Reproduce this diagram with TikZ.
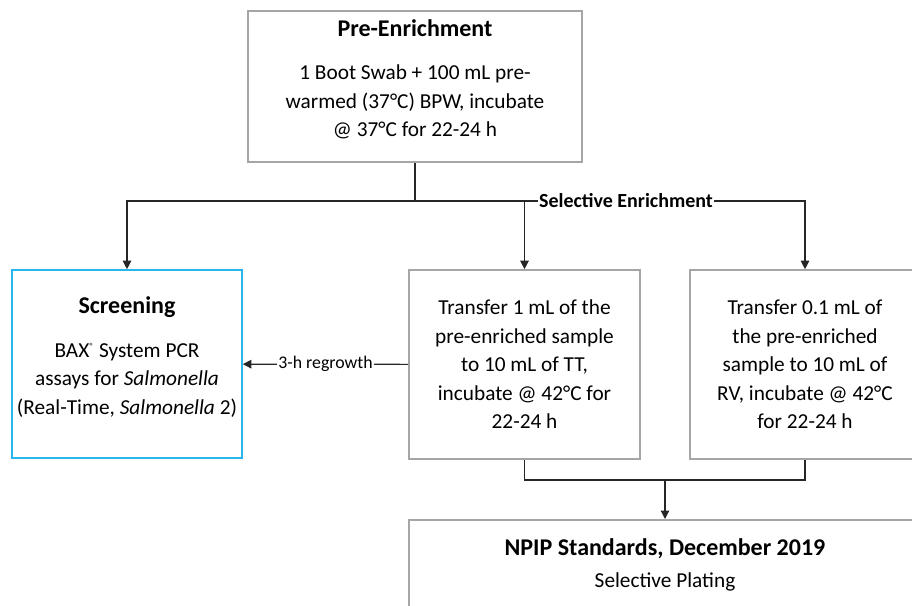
\documentclass[tikz,border=0pt]{standalone}
\usepackage{fontspec}
\setmainfont{Carlito}
\usetikzlibrary{positioning,arrows.meta}
\definecolor{boxgray}{HTML}{A6A6A6}
\definecolor{scrblue}{HTML}{29B6EC}

\begin{document}
\begin{tikzpicture}[x=1pt, y=-1pt,
    box/.style={draw=boxgray, line width=1.6pt, align=center, inner sep=0pt,
        font=\fontsize{21.3}{28.5}\selectfont},
    lbl/.style={fill=white, inner xsep=1.5pt, inner ysep=1pt,
        font=\fontsize{17.8}{20}\selectfont},
    line/.style={line width=1.2pt, draw=black!85},
    arr/.style={line, -{Triangle[length=8.5pt,width=8.5pt]}}]
    \clip (0,0) rectangle (912,605);

    \node[box, minimum width=334pt, minimum height=151pt] (pre) at (415,86.5)
        {\textbf{\fontsize{24}{26}\selectfont Pre-Enrichment}\\[15pt]
         1 Boot Swab + 100 mL pre-\\ warmed (37°C) BPW, incubate\\ @ 37°C for 22-24 h\\[-12pt]\mbox{}};
    \node[box, draw=scrblue, minimum width=230pt, minimum height=188pt] (scr) at (127,364)
        {\textbf{\fontsize{24}{26}\selectfont Screening}\\[15pt]
         BAX\textsuperscript{\fontsize{9}{9}\selectfont ®} System PCR\\ assays for \textit{Salmonella}\\
         (Real-Time, \textit{Salmonella} 2)\\[-12pt]\mbox{}};
    \node[box, minimum width=231pt, minimum height=189pt] (tt) at (524.5,364.5)
        {Transfer 1 mL of the\\ pre-enriched sample\\ to 10 mL of TT,\\ incubate @ 42°C for\\ 22-24 h};
    \node[box, minimum width=230pt, minimum height=189pt] (rv) at (805,364.5)
        {Transfer 0.1 mL of\\ the pre-enriched\\ sample to 10 mL of\\ RV, incubate @ 42°C\\ for 22-24 h};
    \node[box, anchor=north, minimum width=512pt, minimum height=90pt] (npip) at (665,519)
        {\textbf{\fontsize{24}{26}\selectfont NPIP Standards, December 2019}\\[4pt]
         Selective Plating};

    \coordinate (split) at (415,201);
    \coordinate (merge) at (665,480);

    % pre-enrichment splits three ways
    \draw[line] (pre) -- (split);
    \draw[arr] (split) -| (scr);
    \draw[arr] (split) -| (tt);
    \draw[arr] (split) -| (rv);
    \node[lbl, font=\fontsize{20}{22}\selectfont\bfseries] (sel) at (626,201) {Selective Enrichment};

    \draw[arr] (tt) -- node[lbl] (regrow) {3-h regrowth} (scr);

    % both broths go to plating
    \draw[line] (tt) |- (merge) -| (rv);
    \draw[arr] (merge) -- (npip);
\end{tikzpicture}
\end{document}
